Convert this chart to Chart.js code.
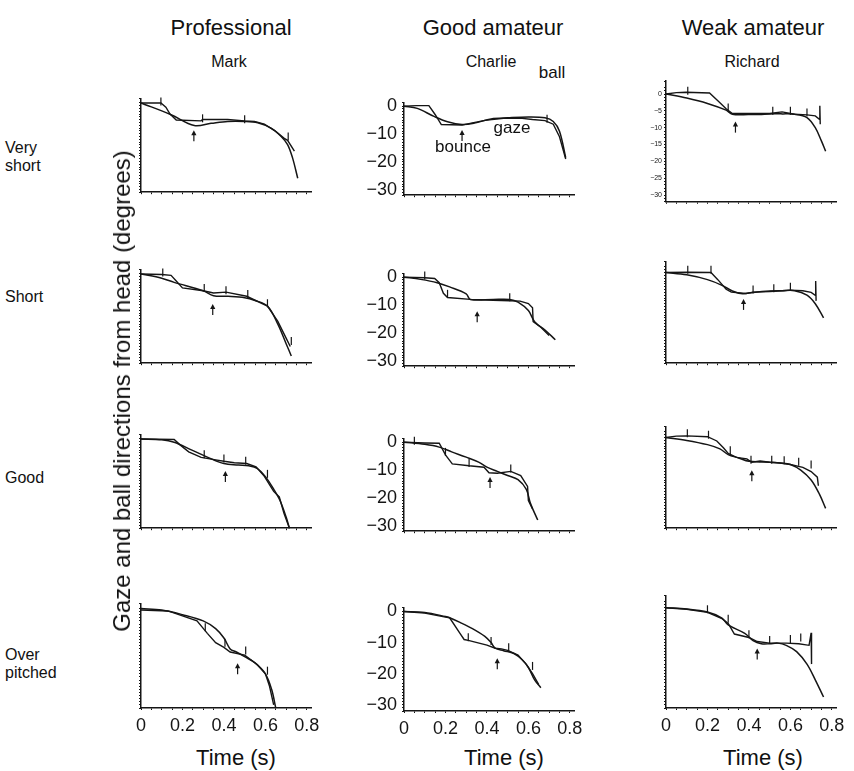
<!DOCTYPE html>
<html>
<head>
<meta charset="utf-8">
<script src="https://cdn.jsdelivr.net/npm/chart.js@4.4.0/dist/chart.umd.min.js"></script>
<style>
body{margin:0;background:#fff;width:854px;height:771px;position:relative;overflow:hidden;font-family:"Liberation Sans",Arial,sans-serif;color:#111}
.t{position:absolute;white-space:nowrap;line-height:1}
.c{transform:translate(-50%,-50%)}
canvas{position:absolute}
</style>
</head>
<body>
<div id="wrap"></div>
<script>
// labels
const levels = ['Professional', 'Good amateur', 'Weak amateur'];
const players = ['Mark', 'Charlie', 'Richard'];
const rowNames = [['Very', 'short'], ['Short'], ['Good'], ['Over', 'pitched']];
const xTickLabels = [0, 0.2, 0.4, 0.6, 0.8];
const yTickLabels = [0, -10, -20, -30];

// [time (s), direction (deg)]
const gazeMarkVeryShort = [[0,0],[0.096,0],[0.12,-1.5],[0.14,-4],[0.17,-6.1],[0.29,-6.4],[0.297,-5.9],[0.418,-5.9],[0.5,-6.4],[0.547,-6.6],[0.595,-7.6],[0.643,-9.8],[0.691,-12.7],[0.707,-13.4],[0.74,-17.3]];
const ballMarkVeryShort = [[0,0],[0.145,-4.2],[0.257,-8.1],[0.338,-7.3],[0.418,-6.6],[0.498,-6.6],[0.563,-7.1],[0.627,-9],[0.675,-11.9],[0.707,-14.9],[0.731,-19.7],[0.756,-27]];
const saccMarkVeryShort = [[0.096,0.5],[0.297,-5.5],[0.5,-5.8],[0.71,-12]];

const gazeCharlieVeryShort = [[0,0],[0.06,0.2],[0.12,0.2],[0.15,-3],[0.18,-6.6],[0.28,-6.8],[0.33,-6],[0.39,-5.1],[0.48,-4.4],[0.56,-4.3],[0.62,-4.8],[0.68,-5.2],[0.72,-6.5],[0.75,-11],[0.78,-19]];
const ballCharlieVeryShort = [[0,0],[0.064,-0.8],[0.145,-3.7],[0.21,-5.6],[0.28,-6.6],[0.34,-6.1],[0.42,-4.6],[0.5,-4.2],[0.6,-3.9],[0.68,-4.2],[0.72,-5.5],[0.75,-9],[0.78,-18.5]];
const saccCharlieVeryShort = [[0.69,-4.5]];

const gazeRichardVeryShort = [[0,0],[0.05,0.4],[0.097,0.5],[0.21,0.3],[0.25,-2],[0.29,-4.4],[0.32,-5.8],[0.42,-5.8],[0.5,-5.8],[0.56,-5.3],[0.62,-6],[0.68,-6.2],[0.72,-6.5],[0.74,-7.5],[0.742,-3.5],[0.744,-9]];
const ballRichardVeryShort = [[0,0],[0.1,-1.2],[0.2,-2.8],[0.29,-4.8],[0.32,-6],[0.4,-6.1],[0.45,-6.1],[0.5,-5.9],[0.56,-5.9],[0.62,-6],[0.68,-7],[0.72,-10],[0.75,-14],[0.77,-17]];
const saccRichardVeryShort = [[0.105,1],[0.3,-4],[0.515,-5],[0.6,-5],[0.68,-5.5]];

const gazeMarkShort = [[0,0],[0.1,-0.2],[0.145,-0.5],[0.17,-2.5],[0.2,-5],[0.3,-6],[0.35,-6.8],[0.41,-6.5],[0.51,-8],[0.61,-11.5],[0.66,-17],[0.7,-23],[0.72,-26]];
const ballMarkShort = [[0,0],[0.1,-1.5],[0.16,-3],[0.3,-6],[0.35,-7.8],[0.42,-8],[0.5,-8.5],[0.55,-9.5],[0.61,-11.5],[0.66,-18],[0.7,-25],[0.725,-29.4]];
const saccMarkShort = [[0.105,0.5],[0.305,-5],[0.41,-5.8],[0.515,-7.2],[0.61,-10.5],[0.725,-24]];

const gazeCharlieShort = [[0,0],[0.1,-0.2],[0.148,-0.5],[0.17,-2],[0.19,-5.8],[0.21,-7.3],[0.32,-8],[0.43,-8.3],[0.51,-8.5],[0.56,-8.6],[0.6,-9.5],[0.62,-11],[0.623,-16],[0.66,-18],[0.7,-21]];
const ballCharlieShort = [[0,0],[0.08,-0.8],[0.16,-2],[0.22,-3.5],[0.3,-6],[0.32,-8],[0.43,-8],[0.51,-8],[0.55,-9],[0.6,-12],[0.63,-16],[0.68,-19],[0.73,-22.5]];
const saccCharlieShort = [[0.1,0.6],[0.21,-6],[0.51,-7.2]];

const gazeRichardShort = [[0,0],[0.105,0.1],[0.217,0],[0.25,-2.5],[0.29,-5.9],[0.315,-6.9],[0.386,-7.4],[0.42,-6.9],[0.5,-6.7],[0.56,-6.4],[0.6,-6.2],[0.66,-6.4],[0.7,-7],[0.72,-8],[0.722,-3],[0.724,-10]];
const ballRichardShort = [[0,0],[0.1,-0.8],[0.2,-2.5],[0.27,-4.5],[0.32,-6.5],[0.37,-7.5],[0.42,-7],[0.5,-6.5],[0.56,-6.4],[0.62,-6.4],[0.68,-8],[0.72,-11],[0.76,-16]];
const saccRichardShort = [[0.105,1],[0.217,1],[0.42,-6],[0.52,-5.5],[0.6,-5]];

const gazeMarkGood = [[0,0],[0.16,-0.2],[0.19,-2.2],[0.23,-4.6],[0.29,-6.6],[0.36,-7.5],[0.4,-8],[0.45,-8.5],[0.51,-8.8],[0.555,-10],[0.595,-13.4],[0.64,-18.8],[0.667,-20.8],[0.69,-26.7],[0.716,-32]];
const ballMarkGood = [[0,0],[0.1,-0.3],[0.16,-1.2],[0.24,-3.8],[0.32,-6.5],[0.4,-8.8],[0.47,-9.3],[0.52,-9.6],[0.56,-10.5],[0.6,-13.5],[0.64,-18],[0.67,-22],[0.7,-28],[0.716,-32]];
const saccMarkGood = [[0.305,-5.5],[0.4,-7],[0.505,-7.8],[0.61,-12.5]];

const gazeCharlieGood = [[0,0],[0.1,-0.3],[0.17,-0.4],[0.2,-4.6],[0.233,-7.8],[0.314,-8.5],[0.386,-9],[0.41,-11],[0.45,-11.2],[0.515,-10.5],[0.563,-12],[0.596,-15.9],[0.6,-21],[0.62,-24]];
const ballCharlieGood = [[0,0],[0.1,-0.8],[0.17,-1.8],[0.23,-3.5],[0.3,-5.4],[0.36,-7.2],[0.4,-9],[0.45,-10.5],[0.5,-12],[0.55,-13.5],[0.59,-17],[0.61,-22],[0.645,-28]];
const saccCharlieGood = [[0.05,0.5],[0.2,-3.5],[0.314,-7.5],[0.515,-9.5]];

const gazeRichardGood = [[0,0],[0.05,0.5],[0.1,0.6],[0.2,0.3],[0.245,-1.2],[0.277,-3.6],[0.3,-5.6],[0.34,-7],[0.39,-7.5],[0.414,-8.7],[0.454,-8.3],[0.5,-8.7],[0.55,-9],[0.6,-9.5],[0.66,-10.5],[0.7,-12],[0.73,-14],[0.735,-17]];
const ballRichardGood = [[0,0],[0.1,-1],[0.2,-2.5],[0.26,-4],[0.3,-6],[0.35,-7.2],[0.4,-8.4],[0.45,-8.6],[0.5,-8.7],[0.55,-9],[0.6,-9.5],[0.65,-11.5],[0.7,-15],[0.74,-20],[0.77,-25]];
const saccRichardGood = [[0.103,1.5],[0.205,1],[0.31,-4.5],[0.41,-7.8],[0.51,-7.8],[0.57,-8],[0.64,-8.5],[0.7,-9.5]];

const gazeMarkOver = [[0,-0.5],[0.13,-0.8],[0.27,-4],[0.32,-8],[0.36,-11],[0.4,-12.5],[0.43,-14],[0.5,-15],[0.56,-18],[0.6,-21],[0.62,-25],[0.64,-31]];
const ballMarkOver = [[0,0],[0.1,-0.5],[0.2,-2],[0.3,-4],[0.36,-6.5],[0.4,-9.5],[0.43,-13],[0.46,-14],[0.5,-15.5],[0.55,-17.5],[0.6,-21],[0.63,-26],[0.65,-32]];
const saccMarkOver = [[0.31,-6],[0.405,-11],[0.505,-13.5],[0.61,-20]];

const gazeCharlieOver = [[0,0],[0.1,-0.5],[0.2,-1.8],[0.22,-2],[0.27,-7],[0.29,-9],[0.31,-9.3],[0.4,-10.8],[0.44,-11.8],[0.47,-12],[0.5,-12.5],[0.55,-14],[0.59,-17],[0.62,-20],[0.65,-23.5]];
const ballCharlieOver = [[0,0],[0.1,-0.3],[0.2,-1.6],[0.22,-2],[0.27,-3.5],[0.33,-5.5],[0.39,-8],[0.42,-10],[0.44,-11.8],[0.48,-12.6],[0.53,-13.5],[0.57,-15.5],[0.6,-18],[0.63,-22],[0.66,-24.5]];
const saccCharlieOver = [[0.31,-8.3],[0.42,-9.5],[0.505,-11.5],[0.62,-17.5]];

const gazeRichardOver = [[0,0],[0.1,-0.5],[0.2,-1.5],[0.27,-3.5],[0.3,-5],[0.33,-8.4],[0.4,-9.5],[0.44,-10.8],[0.5,-11.3],[0.54,-11.3],[0.58,-11.3],[0.64,-11.5],[0.69,-12],[0.7,-8],[0.702,-18]];
const ballRichardOver = [[0,0],[0.1,-0.4],[0.2,-1.4],[0.27,-3.3],[0.3,-5.5],[0.38,-8.2],[0.42,-10.5],[0.46,-11.5],[0.5,-11.5],[0.54,-11.3],[0.58,-12],[0.63,-14],[0.68,-18],[0.72,-23],[0.76,-28.5]];
const saccRichardOver = [[0.2,-0.5],[0.3,-3.5],[0.4,-8.5],[0.5,-10.3],[0.6,-10],[0.65,-9.5]];

// bounce arrows, panel order row by row
const bounceT   = [0.255, 0.28, 0.335, 0.346, 0.353, 0.374, 0.407, 0.415, 0.414, 0.466, 0.45, 0.44];
const bounceTip = [-9.8, -8.6, -8.2, -10.8, -12.3, -9.3, -11.5, -12.5, -11.5, -17.6, -15, -13];

const panels = [
  [gazeMarkVeryShort, ballMarkVeryShort, saccMarkVeryShort],
  [gazeCharlieVeryShort, ballCharlieVeryShort, saccCharlieVeryShort],
  [gazeRichardVeryShort, ballRichardVeryShort, saccRichardVeryShort],
  [gazeMarkShort, ballMarkShort, saccMarkShort],
  [gazeCharlieShort, ballCharlieShort, saccCharlieShort],
  [gazeRichardShort, ballRichardShort, saccRichardShort],
  [gazeMarkGood, ballMarkGood, saccMarkGood],
  [gazeCharlieGood, ballCharlieGood, saccCharlieGood],
  [gazeRichardGood, ballRichardGood, saccRichardGood],
  [gazeMarkOver, ballMarkOver, saccMarkOver],
  [gazeCharlieOver, ballCharlieOver, saccCharlieOver],
  [gazeRichardOver, ballRichardOver, saccRichardOver]
];

// layout
const colAxisX = [141, 404, 666];
const rowZeroY = [97, 268, 433, 602];
const colShift = [-3, 0, -3];
const colYMax = [1.5, 1.2, 3.8];
const PX_DEG = 3.4, PX_SEC = 207, X_MAX = 0.82, Y_MIN = -32;
const Y_W = 50, PAD_T = 6, PAD_R = 16;
const INK = '#151515';
const FONT = '"Liberation Sans", Arial, sans-serif';

const wrap = document.getElementById('wrap');
function text(s, x, y, size, cls) {
  const d = document.createElement('div');
  d.className = 't ' + (cls || '');
  d.style.left = x + 'px'; d.style.top = y + 'px'; d.style.fontSize = size + 'px';
  d.textContent = s;
  wrap.appendChild(d);
}
const minus = v => v === 0 ? '0' : (v < 0 ? '\u2212' + (-v) : String(v));

const arrowPlugin = {
  id: 'bounceArrow',
  afterDatasetsDraw(chart, args, opts) {
    if (opts.t == null) return;
    const ctx = chart.ctx, x = chart.scales.x, y = chart.scales.y;
    const px = x.getPixelForValue(opts.t), py = y.getPixelForValue(opts.tip);
    ctx.save();
    ctx.strokeStyle = INK; ctx.fillStyle = INK; ctx.lineWidth = 1.2;
    ctx.beginPath(); ctx.moveTo(px, py + 3); ctx.lineTo(px, py + 11); ctx.stroke();
    ctx.beginPath(); ctx.moveTo(px, py); ctx.lineTo(px - 2.6, py + 5); ctx.lineTo(px + 2.6, py + 5); ctx.closePath(); ctx.fill();
    ctx.restore();
  }
};

panels.forEach(function(p, i) {
  const r = Math.floor(i / 3), c = i % 3;
  const yMax = colYMax[c];
  const xH = r === 3 ? 30 : 5;
  const w = Math.round(Y_W + X_MAX * PX_SEC + PAD_R);
  const h = Math.round(PAD_T + (yMax - Y_MIN) * PX_DEG + xH);
  const cv = document.createElement('canvas');
  cv.width = w; cv.height = h;
  cv.style.left = (colAxisX[c] - Y_W) + 'px';
  cv.style.top = Math.round(rowZeroY[r] + colShift[c] - yMax * PX_DEG - PAD_T) + 'px';
  wrap.appendChild(cv);
  const small = (r === 0 && c === 2);

  new Chart(cv, {
    type: 'line',
    data: {
      datasets: [
        { data: p[0].map(d => ({x: d[0], y: d[1]})), borderColor: INK, borderWidth: 1.4, pointRadius: 0, tension: 0, clip: false },
        { data: p[1].map(d => ({x: d[0], y: d[1]})), borderColor: INK, borderWidth: 1.5, pointRadius: 0, tension: 0.35, clip: false },
        { data: p[2].map(d => ({x: d[0], y: d[1]})), showLine: false, pointStyle: 'line', rotation: 90, pointRadius: 4, borderColor: INK, borderWidth: 1.2, clip: false }
      ]
    },
    options: {
      responsive: false,
      animation: false,
      layout: { padding: { top: PAD_T, right: PAD_R, left: 0, bottom: 0 } },
      plugins: { legend: { display: false }, tooltip: { enabled: false }, bounceArrow: { t: bounceT[i], tip: bounceTip[i] } },
      scales: {
        x: {
          type: 'linear', min: 0, max: X_MAX,
          border: { display: true, color: INK, width: 1.5 },
          grid: { display: true, drawOnChartArea: false, drawTicks: true, tickLength: 2, color: INK },
          ticks: {
            stepSize: 0.05, includeBounds: false, autoSkip: false, maxRotation: 0, padding: 5, color: INK,
            font: { family: FONT, size: 18 },
            callback: function(v) {
              if (r !== 3) return '';
              const k = xTickLabels.findIndex(t => Math.abs(t - v) < 1e-6);
              return k < 0 ? '' : (v === 0 ? '0' : v.toFixed(1));
            }
          },
          afterFit: function(s) { s.height = xH; }
        },
        y: {
          type: 'linear', min: Y_MIN, max: yMax,
          border: { display: true, color: INK, width: 1.5 },
          grid: { display: true, drawOnChartArea: false, drawTicks: true, tickLength: 2, color: INK },
          ticks: {
            stepSize: 1, autoSkip: false, padding: small ? 2 : 5, color: INK,
            font: { family: FONT, size: small ? 7 : 18 },
            callback: function(v) {
              if (c === 1 && yTickLabels.includes(v)) return minus(v);
              if (small && v <= 0 && v % 5 === 0) return minus(v);
              return '';
            }
          },
          afterFit: function(s) { s.width = Y_W; }
        }
      }
    },
    plugins: [arrowPlugin]
  });
});

// headers and labels
const headX = [231, 493, 753], nameX = [229, 491, 752], timeX = [236, 504, 763];
levels.forEach((s, k) => text(s, headX[k], 28, 22, 'c'));
players.forEach((s, k) => text(s, nameX[k], 62, 16, 'c'));
levels.forEach((s, k) => text('Time (s)', timeX[k], 758, 22, 'c'));
const rowLabelY = [157, 297, 478, 664];
rowNames.forEach((lines, k) => {
  const d = document.createElement('div');
  d.className = 't';
  d.style.left = '5px'; d.style.fontSize = '16px'; d.style.lineHeight = '18px';
  d.style.top = (rowLabelY[k] - lines.length * 9) + 'px';
  d.innerHTML = lines.join('<br>');
  wrap.appendChild(d);
});
const yt = document.createElement('div');
yt.className = 't';
yt.style.left = '122px'; yt.style.top = '391px'; yt.style.fontSize = '24px';
yt.style.transform = 'translate(-50%,-50%) rotate(-90deg)';
yt.textContent = 'Gaze and ball directions from head (degrees)';
wrap.appendChild(yt);

// annotations in Charlie / very short
text('ball', 552, 72, 17, 'c');
text('gaze', 512, 127, 17, 'c');
text('bounce', 463, 146, 17, 'c');
</script>
</body>
</html>
